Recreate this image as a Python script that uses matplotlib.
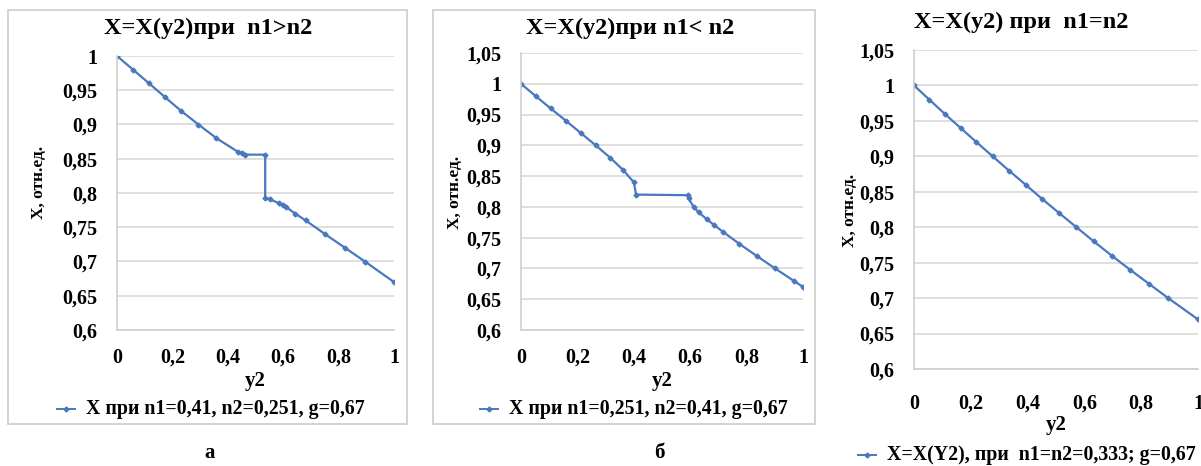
import matplotlib.pyplot as plt
from matplotlib.ticker import FuncFormatter, MultipleLocator
from matplotlib.patches import Rectangle

# panel a: n1 > n2
y2_a = [0, 0.058, 0.116, 0.173, 0.231, 0.294, 0.359, 0.437, 0.451, 0.463, 0.535,
        0.535, 0.551, 0.585, 0.599, 0.609, 0.643, 0.681, 0.751, 0.823, 0.895, 1.0]
x_a = [1.0, 0.98, 0.96, 0.94, 0.92, 0.90, 0.88, 0.86, 0.858, 0.856, 0.856,
       0.793, 0.791, 0.785, 0.782, 0.780, 0.77, 0.76, 0.74, 0.72, 0.70, 0.67]

# panel b: n1 < n2
y2_b = [0, 0.052, 0.105, 0.159, 0.212, 0.265, 0.316, 0.362, 0.400, 0.408, 0.591,
        0.594, 0.612, 0.630, 0.659, 0.686, 0.715, 0.774, 0.837, 0.901, 0.967, 1.0]
x_b = [1.0, 0.98, 0.96, 0.94, 0.92, 0.90, 0.88, 0.86, 0.84, 0.82, 0.819,
       0.814, 0.80, 0.791, 0.78, 0.77, 0.76, 0.74, 0.72, 0.70, 0.68, 0.67]

# panel c: n1 = n2
y2_c = [0, 0.054, 0.108, 0.164, 0.220, 0.277, 0.334, 0.393, 0.451, 0.511, 0.572,
        0.633, 0.696, 0.761, 0.828, 0.895, 1.0]
x_c = [1.0, 0.98, 0.96, 0.94, 0.92, 0.90, 0.88, 0.86, 0.84, 0.82, 0.80,
       0.78, 0.76, 0.74, 0.72, 0.70, 0.67]

titles = ['X=X(y2)при  n1>n2', 'X=X(y2)при n1< n2', 'X=X(y2) при  n1=n2']
legends = ['X при n1=0,41, n2=0,251, g=0,67',
           'X при n1=0,251, n2=0,41, g=0,67',
           'X=X(Y2), при  n1=n2=0,333; g=0,67']
captions = ['а', 'б']

W, H = 1201, 466
plt.rcParams['font.family'] = ['Liberation Serif', 'DejaVu Serif']
plt.rcParams['font.weight'] = 'bold'
fig = plt.figure(figsize=(W / 100, H / 100), dpi=100)

blue = '#4A78BE'
grid = '#D9D9D9'


def fmt(v, pos):
    return ('%g' % round(v, 2)).replace('.', ',')


def panel(box, xs, ys, ytop, title, tpos, leg, lpos, ylab_pos, xlab_y, tick_pad):
    l, r, t, b = box
    ax = fig.add_axes([l / W, 1 - b / H, (r - l) / W, (b - t) / H])
    ax.plot(xs, ys, color=blue, lw=1.6, marker='D', ms=2.5)
    ax.set_xlim(0, 1)
    ax.set_ylim(0.6, ytop)
    ax.xaxis.set_major_locator(MultipleLocator(0.2))
    ax.yaxis.set_major_locator(MultipleLocator(0.05))
    ax.xaxis.set_major_formatter(FuncFormatter(fmt))
    ax.yaxis.set_major_formatter(FuncFormatter(fmt))
    ax.grid(axis='y', color=grid, lw=1.2)
    ax.set_axisbelow(True)
    for s in ['top', 'right']:
        ax.spines[s].set_visible(False)
    for s in ['left', 'bottom']:
        ax.spines[s].set_color('#CFCFCF')
        ax.spines[s].set_linewidth(1.2)
    ax.tick_params(length=0, labelsize=14.5, pad=tick_pad)
    ax.tick_params(axis='y', pad=14)
    for lab in ax.get_xticklabels() + ax.get_yticklabels():
        lab.set_fontweight('bold')
    fig.text(tpos[0] / W, 1 - tpos[1] / H, title, ha='center', va='center',
             fontsize=17.5, fontweight='bold')
    fig.text(ylab_pos[0] / W, 1 - ylab_pos[1] / H, 'X, отн.ед.', rotation=90,
             ha='center', va='center', fontsize=12.5, fontweight='bold')
    fig.text((l + r) / 2 / W, 1 - xlab_y / H, 'y2', ha='center', va='center',
             fontsize=15, fontweight='bold')
    # legend
    lx, ly = lpos
    fig.add_artist(plt.Line2D([lx / W, (lx + 18) / W], [1 - ly / H, 1 - ly / H],
                              color=blue, lw=1.4))
    fig.add_artist(plt.Line2D([(lx + 9) / W], [1 - ly / H], color=blue,
                              marker='D', ms=2.5, lw=0))
    fig.text((lx + 29) / W, 1 - ly / H, leg, ha='left', va='center',
             fontsize=14.3, fontweight='bold')
    return ax


panel((117, 394, 56, 330), y2_a, x_a, 1.0, titles[0], (208, 28), legends[0],
      (57, 409), (39, 182), 381, 13)
panel((521, 803, 53, 330), y2_b, x_b, 1.05, titles[1], (630, 28), legends[1],
      (480, 409), (455, 192), 381, 13)
panel((914, 1198, 50, 369), y2_c, x_c, 1.05, titles[2], (1021, 22), legends[2],
      (858, 455), (850, 210), 425, 18)

# frames around a and б
for (x0, y0, x1, y1) in [(8, 10, 407, 424), (433, 10, 815, 424)]:
    fig.add_artist(Rectangle((x0 / W, 1 - y1 / H), (x1 - x0) / W, (y1 - y0) / H,
                             fill=False, edgecolor='#D0D0D0', lw=1.3))

fig.text(210 / W, 1 - 453 / H, captions[0], ha='center', va='center',
         fontsize=15, fontweight='bold')
fig.text(659 / W, 1 - 453 / H, captions[1], ha='center', va='center',
         fontsize=15, fontweight='bold')

fig.savefig('out.png', dpi=100)
